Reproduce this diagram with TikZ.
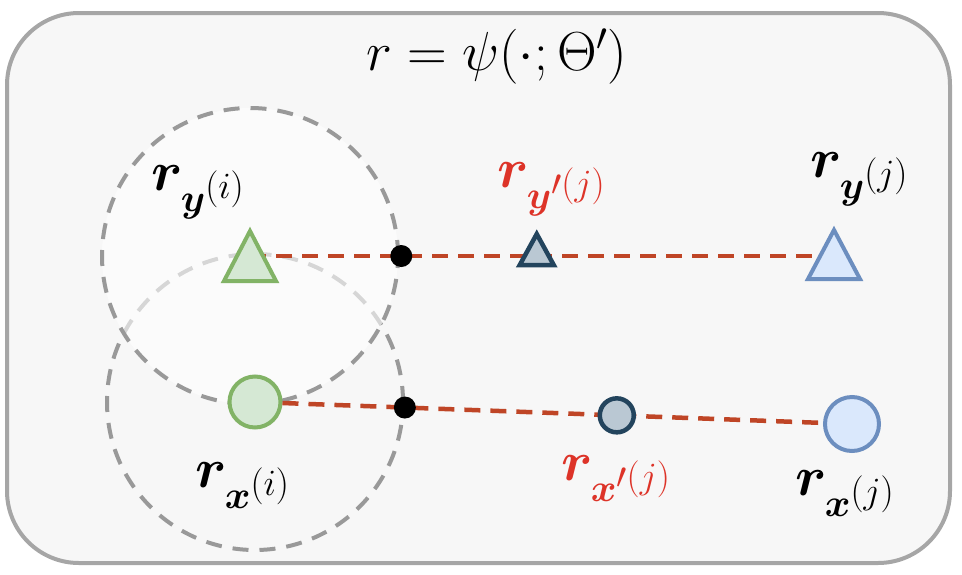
\documentclass[tikz,border=0pt]{standalone}
\usepackage{fix-cm}
\usepackage{amsmath,bm}
\DeclareMathSizes{56}{56}{39}{37}
\DeclareMathSizes{55}{55}{39}{28}
\usetikzlibrary{calc}
\definecolor{framegray}{HTML}{A6A6A6}
\definecolor{framefill}{HTML}{F7F7F7}
\definecolor{ringgray}{HTML}{999999}
\definecolor{linered}{HTML}{BF4526}
\definecolor{textred}{HTML}{DD3328}
\definecolor{gfill}{HTML}{D5E8D4}
\definecolor{gline}{HTML}{82B366}
\definecolor{bfill}{HTML}{DAE8FC}
\definecolor{bline}{HTML}{6C8EBF}
\definecolor{dfill}{HTML}{BAC8D3}
\definecolor{dline}{HTML}{23445D}
\tikzset{
  frame/.style={draw=framegray, fill=framefill, line width=4pt, rounded corners=72pt},
  ring/.style={circle, draw=ringgray, line width=4pt, dash pattern=on 16pt off 11pt, inner sep=0pt, minimum size=296pt},
  link/.style={draw=linered, line width=4.5pt, dash pattern=on 16pt off 10pt},
  gcirc/.style={circle, draw=gline, fill=gfill, line width=4pt, inner sep=0pt, minimum size=51pt},
  bcirc/.style={circle, draw=bline, fill=bfill, line width=4pt, inner sep=0pt, minimum size=54pt},
  dcirc/.style={circle, draw=dline, fill=dfill, line width=4.5pt, inner sep=0pt, minimum size=34pt},
  dot/.style={circle, fill=black, inner sep=0pt, minimum size=22pt},
  gtri/.style={draw=gline, fill=gfill, line width=4pt},
  btri/.style={draw=bline, fill=bfill, line width=4pt},
  dtri/.style={draw=dline, fill=dfill, line width=4.5pt},
  lbl/.style={anchor=base west, inner sep=0pt, font=\fontsize{56}{66}\selectfont},
  ttl/.style={anchor=base, inner sep=0pt, font=\fontsize{55}{66}\selectfont},
}
\begin{document}
\begin{tikzpicture}[x=1pt,y=-1pt]
\useasboundingbox (0,0) rectangle (962,574);
\draw[frame] (7,13) rectangle (950,563);
\node[ttl] (title) at (497,70) {$r=\psi(\cdot;\Theta')$};
% big rings
\node[ring] (Rx) at (255,402) {};
\node[ring, fill=white, fill opacity=0.6] (Ry) at (250,256) {};
% end points
\coordinate (gy) at (250,256);
\coordinate (by) at (834,256);
\node[gcirc] (gx) at (255,402) {};
\node[bcirc] (bx) at (852,424) {};
% links
\draw[link] (gy) -- (by);
\draw[link] (gx) -- (bx);
% middle markers
\node[dot] (py) at ($(gy)!0.259!(by)$) {};
\node[dot] (px) at ($(gx)!0.251!(bx)$) {};
\node[dcirc] (dx) at ($(gx)!0.606!(bx)$) {};
\coordinate (dy) at ($(gy)!0.491!(by)$);
% triangles
\draw[gtri] ($(gy)+(0,-25)$) -- ($(gy)+(-26,25)$) -- ($(gy)+(26,25)$) -- cycle;
\draw[btri] ($(by)+(0,-26)$) -- ($(by)+(-26,23)$) -- ($(by)+(26,23)$) -- cycle;
\draw[dtri] ($(dy)+(0,-22)$) -- ($(dy)+(-17,9)$) -- ($(dy)+(17,9)$) -- cycle;
% labels
\node[lbl] (lyi) at (151,190) {$\boldsymbol{r}_{\boldsymbol{y}^{(i)}}$};
\node[lbl, text=textred] (lyp) at (497,187) {$\boldsymbol{r}_{\boldsymbol{y}^{\prime(j)}}$};
\node[lbl] (lyj) at (810,177) {$\boldsymbol{r}_{\boldsymbol{y}^{(j)}}$};
\node[lbl] (lxi) at (195,487) {$\boldsymbol{r}_{\boldsymbol{x}^{(i)}}$};
\node[lbl, text=textred] (lxp) at (561,480) {$\boldsymbol{r}_{\boldsymbol{x}^{\prime(j)}}$};
\node[lbl] (lxj) at (795,495) {$\boldsymbol{r}_{\boldsymbol{x}^{(j)}}$};
\end{tikzpicture}
\end{document}
